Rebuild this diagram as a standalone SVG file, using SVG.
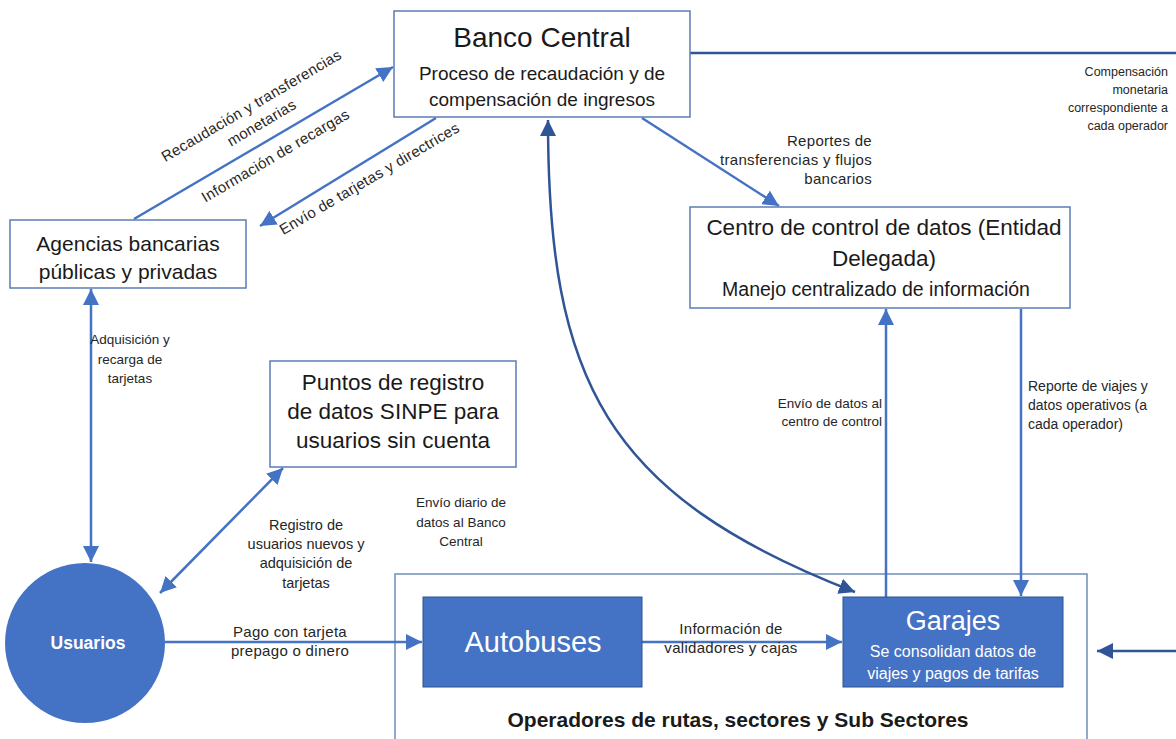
<svg xmlns="http://www.w3.org/2000/svg" width="1176" height="739" viewBox="0 0 1176 739">
<style>
.box{fill:#fff;stroke:#5B7DB5;stroke-width:1.5}
.fill{fill:#4472C4;stroke:#2F528F;stroke-width:1}
.t{font-family:"Liberation Sans",Arial,sans-serif;fill:#1a1a1a}
.w{font-family:"Liberation Sans",Arial,sans-serif;fill:#fff}
.lbl{font-family:"Liberation Sans",Arial,sans-serif;fill:#262626;font-size:13.5px}
.big{font-size:15px;letter-spacing:0.3px}
.ln{fill:none;stroke:#4472C4;stroke-width:2.5}
.dk{fill:none;stroke:#2F5597;stroke-width:2.5}
</style>
<defs>
<marker id="a" viewBox="0 0 16 16" refX="16" refY="8" markerWidth="16" markerHeight="16" markerUnits="userSpaceOnUse" orient="auto-start-reverse"><path d="M0,0 L16,8 L0,16 z" fill="#4472C4"/></marker>
<marker id="ad" viewBox="0 0 16 16" refX="16" refY="8" markerWidth="16" markerHeight="16" markerUnits="userSpaceOnUse" orient="auto-start-reverse"><path d="M0,0 L16,8 L0,16 z" fill="#2F5597"/></marker>
</defs>
<rect width="1176" height="739" fill="#fff"/>

<g id="operadores">
<rect x="395" y="574" width="692" height="180" fill="none" stroke="#6F8DB8" stroke-width="1.5"/>
<text class="t" x="738" y="727" font-size="21" font-weight="bold" text-anchor="middle">Operadores de rutas, sectores y Sub Sectores</text>
</g>

<g id="connectors">
<line class="ln" x1="134" y1="219" x2="393" y2="67" marker-end="url(#a)"/>
<line class="ln" x1="436" y1="118" x2="260" y2="226" marker-end="url(#a)"/>
<line class="ln" x1="642" y1="118" x2="779" y2="206" marker-end="url(#a)"/>
<path class="dk" d="M548,120 C548,380 605,495 855,592" marker-start="url(#ad)" marker-end="url(#ad)"/>
<line class="ln" x1="91" y1="289" x2="91" y2="562" marker-start="url(#a)" marker-end="url(#a)"/>
<line class="ln" x1="283" y1="468" x2="160" y2="593" marker-start="url(#a)" marker-end="url(#a)"/>
<line class="ln" x1="165" y1="642" x2="422" y2="642" marker-end="url(#a)"/>
<line class="ln" x1="642" y1="642" x2="842" y2="642" marker-end="url(#a)"/>
<line class="ln" x1="886" y1="597" x2="886" y2="309" marker-end="url(#a)"/>
<line class="ln" x1="1021" y1="309" x2="1021" y2="596" marker-end="url(#a)"/>
<path class="dk" d="M690,53 H1182 V651 H1097" marker-end="url(#ad)"/>
</g>

<g id="labels">
<g transform="translate(254,110) rotate(-30.5)">
<text class="lbl big" x="0" y="0" text-anchor="middle">Recaudación y transferencias</text>
<text class="lbl big" x="0" y="20" text-anchor="middle">monetarias</text>
</g>
<text class="lbl big" transform="translate(278,160) rotate(-30.5)" text-anchor="middle">Información de recargas</text>
<text class="lbl big" transform="translate(372,183) rotate(-30.5)" text-anchor="middle">Envío de tarjetas y directrices</text>
<text class="lbl big" text-anchor="end"><tspan x="872" y="146">Reportes de</tspan><tspan x="872" y="165">transferencias y flujos</tspan><tspan x="872" y="184">bancarios</tspan></text>
<text class="lbl" font-size="12.5" text-anchor="end" style="font-size:12.5px"><tspan x="1168" y="76">Compensación</tspan><tspan x="1168" y="94">monetaria</tspan><tspan x="1168" y="112">correspondiente a</tspan><tspan x="1168" y="130">cada operador</tspan></text>
<text class="lbl" text-anchor="middle"><tspan x="130" y="344">Adquisición y</tspan><tspan x="130" y="364">recarga de</tspan><tspan x="130" y="383">tarjetas</tspan></text>
<text class="lbl" text-anchor="middle" style="font-size:14.5px"><tspan x="306" y="530">Registro de</tspan><tspan x="306" y="549">usuarios nuevos y</tspan><tspan x="306" y="568">adquisición de</tspan><tspan x="306" y="588">tarjetas</tspan></text>
<text class="lbl" text-anchor="middle"><tspan x="461" y="507">Envío diario de</tspan><tspan x="461" y="527">datos al Banco</tspan><tspan x="461" y="546">Central</tspan></text>
<text class="lbl big" text-anchor="middle"><tspan x="290" y="637">Pago con tarjeta</tspan><tspan x="290" y="656">prepago o dinero</tspan></text>
<text class="lbl big" text-anchor="middle"><tspan x="731" y="634">Información de</tspan><tspan x="731" y="653">validadores y cajas</tspan></text>
<text class="lbl" text-anchor="end"><tspan x="882" y="408">Envío de datos al</tspan><tspan x="882" y="426">centro de control</tspan></text>
<text class="lbl" style="font-size:14px"><tspan x="1028" y="391">Reporte de viajes y</tspan><tspan x="1028" y="410">datos operativos (a</tspan><tspan x="1028" y="429">cada operador)</tspan></text>
</g>

<g id="banco">
<rect class="box" x="394" y="11" width="296" height="106"/>
<text class="t" x="542" y="47" font-size="28" text-anchor="middle">Banco Central</text>
<text class="t" x="542" y="80" font-size="19" text-anchor="middle">Proceso de recaudación y de</text>
<text class="t" x="542" y="106" font-size="19" text-anchor="middle">compensación de ingresos</text>
</g>

<g id="agencias">
<rect class="box" x="10" y="220" width="236" height="68"/>
<text class="t" x="128" y="251" font-size="21" text-anchor="middle">Agencias bancarias</text>
<text class="t" x="128" y="279" font-size="21" text-anchor="middle">públicas y privadas</text>
</g>

<g id="centro">
<rect class="box" x="690" y="207" width="380" height="101"/>
<text class="t" x="884" y="235" font-size="22.5" text-anchor="middle">Centro de control de datos (Entidad</text>
<text class="t" x="884" y="266" font-size="22.5" text-anchor="middle">Delegada)</text>
<text class="t" x="876" y="296" font-size="19.5" text-anchor="middle">Manejo centralizado de información</text>
</g>

<g id="puntos">
<rect class="box" x="270" y="361" width="246" height="106"/>
<text class="t" x="393" y="390" font-size="22.5" text-anchor="middle">Puntos de registro</text>
<text class="t" x="393" y="419" font-size="22.5" text-anchor="middle">de datos SINPE para</text>
<text class="t" x="393" y="448" font-size="22.5" text-anchor="middle">usuarios sin cuenta</text>
</g>

<g id="usuarios">
<circle cx="85" cy="643" r="80" fill="#4472C4"/>
<text class="w" x="88" y="649" font-size="17.5" font-weight="bold" text-anchor="middle">Usuarios</text>
</g>

<g id="autobuses">
<rect class="fill" x="423" y="597" width="219" height="90"/>
<text class="w" x="533" y="652" font-size="29" text-anchor="middle">Autobuses</text>
</g>

<g id="garajes">
<rect class="fill" x="843" y="597" width="220" height="90"/>
<text class="w" x="953" y="630" font-size="27" text-anchor="middle">Garajes</text>
<text class="w" x="953" y="657" font-size="16" text-anchor="middle">Se consolidan datos de</text>
<text class="w" x="953" y="679" font-size="16" text-anchor="middle">viajes y pagos de tarifas</text>
</g>
</svg>
